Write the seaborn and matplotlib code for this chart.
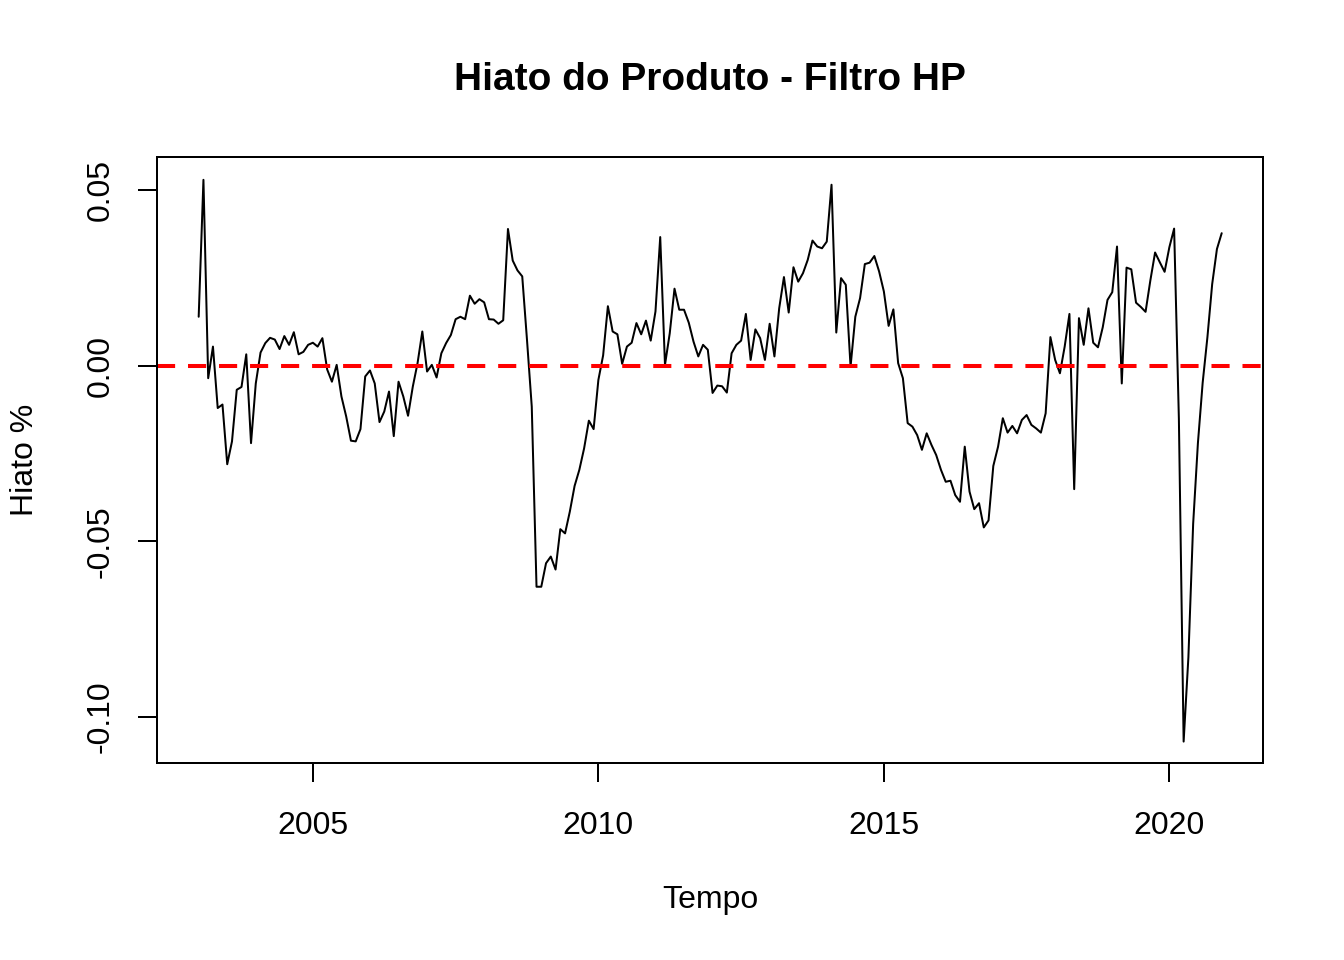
import numpy as np
import pandas as pd
import matplotlib
matplotlib.use("Agg")
import matplotlib.pyplot as plt
import seaborn as sns

# ---- data (monthly output gap, Jan 2003 .. Dec 2020) ----
start_year = 2003
hiato = [
    0.014, 0.053, -0.0035, 0.0055, -0.012, -0.011, -0.028, -0.0215, -0.0068, -0.006, 0.0033, -0.022,
    -0.005, 0.0038, 0.0065, 0.008, 0.0075, 0.0048, 0.0085, 0.006, 0.0096, 0.0033, 0.004, 0.006,
    0.0066, 0.0055, 0.0079, -0.001, -0.0045, 0.0003, -0.0087, -0.0144, -0.0213, -0.0215, -0.018, -0.003,
    -0.0013, -0.005, -0.016, -0.013, -0.0073, -0.020, -0.0045, -0.0087, -0.0142, -0.0059, 0.0008, 0.0098,
    -0.0016, 0.0003, -0.0033, 0.0036, 0.0065, 0.0088, 0.0133, 0.014, 0.0133, 0.020, 0.0177, 0.019,
    0.0181, 0.0133, 0.0132, 0.012, 0.013, 0.039, 0.030, 0.0272, 0.0255, 0.0074, -0.0116, -0.0629,
    -0.0629, -0.0562, -0.0543, -0.058, -0.0465, -0.0477, -0.0415, -0.0342, -0.0296, -0.0235, -0.0156, -0.018,
    -0.004, 0.003, 0.017, 0.0098, 0.009, 0.0006, 0.0055, 0.0066, 0.0122, 0.009, 0.0129, 0.0072,
    0.0155, 0.0367, 0.0003, 0.0093, 0.022, 0.016, 0.016, 0.0123, 0.0069, 0.0027, 0.006, 0.0046,
    -0.0077, -0.0056, -0.0058, -0.0076, 0.0036, 0.006, 0.0072, 0.0148, 0.0017, 0.0104, 0.0079, 0.0017,
    0.012, 0.0027, 0.0164, 0.0253, 0.0152, 0.0281, 0.024, 0.0264, 0.0302, 0.0357, 0.034, 0.0335,
    0.0354, 0.0516, 0.0095, 0.025, 0.0231, -0.0002, 0.014, 0.0193, 0.029, 0.0294, 0.0313, 0.0269,
    0.0212, 0.0114, 0.0161, 0.0008, -0.0035, -0.0163, -0.0173, -0.0197, -0.0239, -0.0192, -0.0225, -0.0254,
    -0.0296, -0.033, -0.0327, -0.0368, -0.0387, -0.023, -0.0358, -0.0408, -0.0391, -0.046, -0.044, -0.0285,
    -0.023, -0.0149, -0.019, -0.0171, -0.0192, -0.0154, -0.014, -0.0168, -0.0178, -0.019, -0.0135, 0.0082,
    0.0017, -0.0021, 0.0055, 0.0148, -0.0351, 0.0136, 0.006, 0.0164, 0.0066, 0.0053, 0.011, 0.0188,
    0.021, 0.034, -0.005, 0.028, 0.0275, 0.018, 0.0168, 0.0154, 0.0243, 0.0323, 0.0295, 0.0268,
    0.0338, 0.0391, -0.015, -0.107, -0.083, -0.045, -0.022, -0.0048, 0.0082, 0.0233, 0.0333, 0.0378,
]
x_ticks = [2005, 2010, 2015, 2020]
x_tick_labels = ["2005", "2010", "2015", "2020"]
y_ticks = [-0.10, -0.05, 0.00, 0.05]
y_tick_labels = ["-0.10", "-0.05", "0.00", "0.05"]
title = "Hiato do Produto - Filtro HP"
xlabel = "Tempo"
ylabel = "Hiato %"

tempo = start_year + np.arange(len(hiato)) / 12.0
df = pd.DataFrame({"Tempo": tempo, "Hiato": hiato})

# ---- style ----
sns.set_style("white")
plt.rcParams["font.family"] = ["Liberation Sans", "DejaVu Sans"]
plt.rcParams["text.color"] = "black"
plt.rcParams["axes.labelcolor"] = "black"

fig = plt.figure(figsize=(13.44, 9.6), dpi=100)
ax = fig.add_axes([157 / 1344, 1 - 763 / 960, (1263 - 157) / 1344, (763 - 157) / 960])

sns.lineplot(data=df, x="Tempo", y="Hiato", ax=ax, color="black", linewidth=1.44)
ax.axhline(0, color="#FF0000", linewidth=2.9, linestyle=(0, (4.5, 3.2)))

ax.set_xlim(2002.27, 2021.64)
ax.set_ylim(-0.1131, 0.0595)

ax.set_xticks(x_ticks)
ax.set_xticklabels(x_tick_labels)
ax.set_yticks(y_ticks)
ax.set_yticklabels(y_tick_labels)

for s in ax.spines.values():
    s.set_visible(True)
    s.set_color("black")
    s.set_linewidth(1.44)

ax.tick_params(axis="both", which="major", direction="out", length=13.7, width=1.44,
               color="black", labelsize=23, labelcolor="black",
               bottom=True, left=True, top=False, right=False)
ax.tick_params(axis="x", pad=21)
ax.tick_params(axis="y", pad=16, labelrotation=90)
for lbl in ax.get_yticklabels():
    lbl.set_va("center")

ax.set_xlabel(xlabel, fontsize=23, color="black")
ax.set_ylabel(ylabel, fontsize=23, color="black")
ax.xaxis.set_label_coords(0.5, (763 - 900) / 606)
ax.xaxis.label.set_va("center")
ax.yaxis.set_label_coords((25 - 157) / 1106, 0.5)
ax.yaxis.label.set_va("center")

ax.set_title(title, fontsize=28, fontweight="bold", color="black",
             y=1 + (157 - 80) / 606, va="center", pad=0)

fig.savefig("out.png", dpi=100, facecolor="white")
